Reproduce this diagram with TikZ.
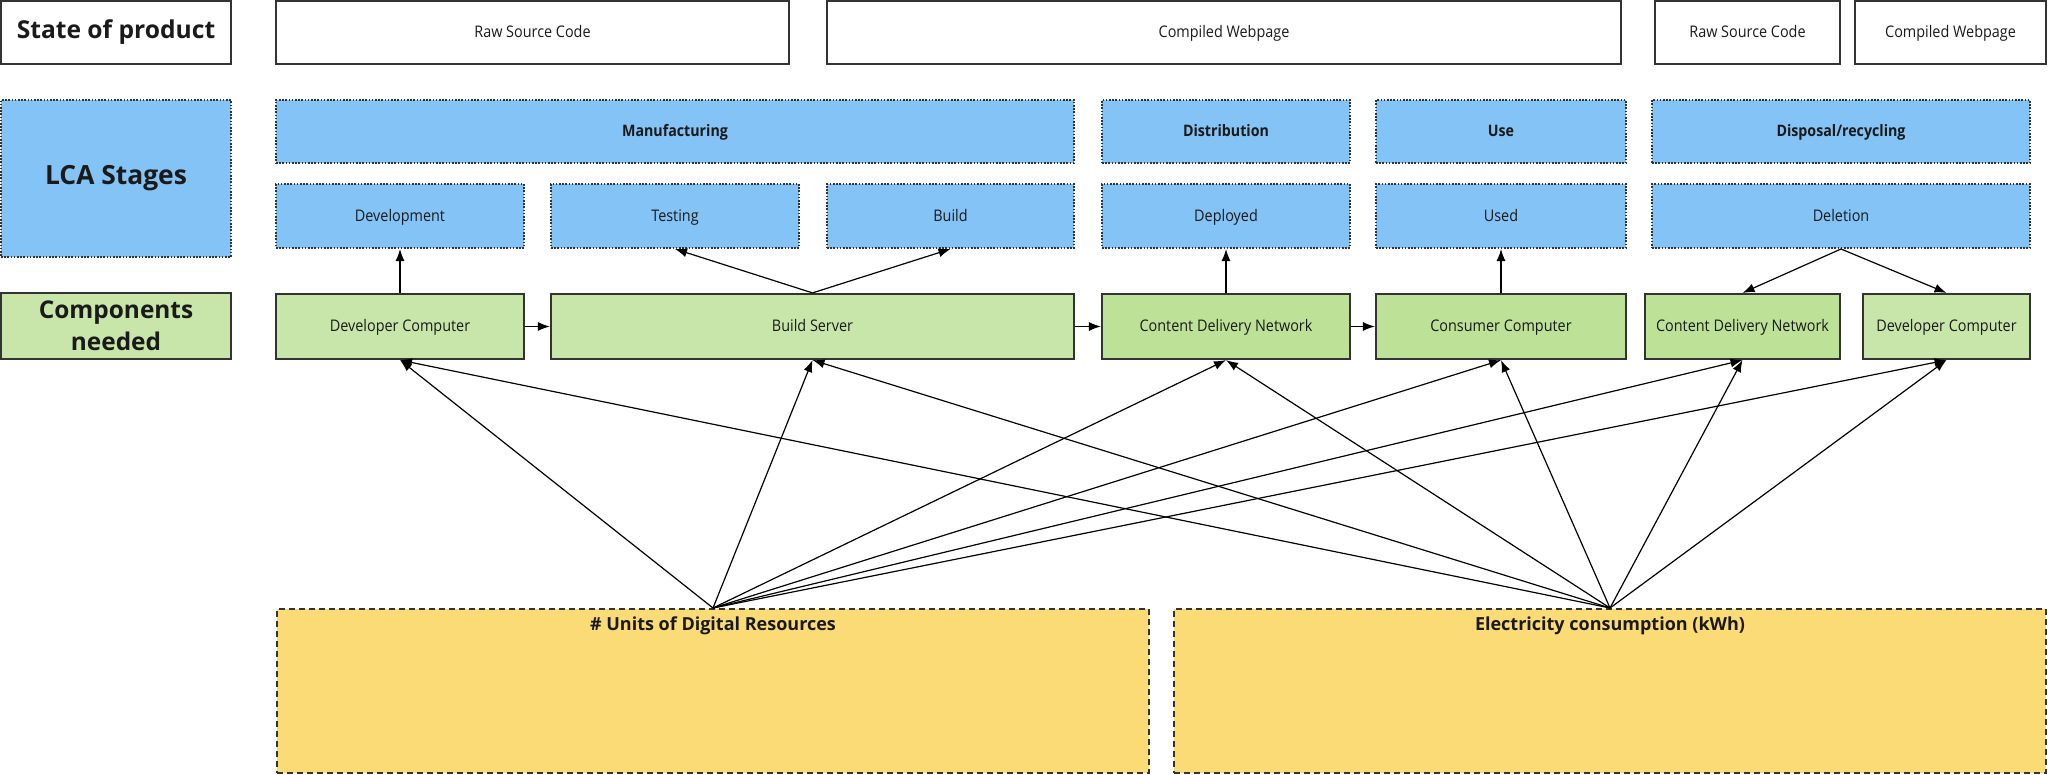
\documentclass[tikz,border=0pt]{standalone}
\usepackage{fontspec}
\setmainfont{Open Sans}
\newfontfamily\condf{Open Sans}[FakeStretch=0.9]
\usetikzlibrary{arrows.meta}
\definecolor{bordc}{HTML}{333333}
\definecolor{textc}{HTML}{1A1A1A}
\definecolor{blueF}{HTML}{83C3F6}
\definecolor{greenL}{HTML}{C8E6AA}
\definecolor{greenD}{HTML}{BDE297}
\definecolor{yellowF}{HTML}{FADB75}
% box from corner (x1,y1) to (x2,y2), in pixel units
\newcommand\pbox[7]{%
  \node[#1, minimum width={(#5-#3)*0.5pt}, minimum height={(#6-#4)*0.5pt}]
    (#2) at ({(#3+#5)/2},{(#4+#6)/2}) {#7};}
\begin{document}
\begin{tikzpicture}[x=0.5pt,y=-0.5pt,
  base/.style={draw=bordc, line width=1.1pt, inner sep=0pt, text=textc, align=center},
  txt/.style={font=\condf\fontsize{8}{10}\selectfont, text height=0.74em, text depth=0.2em},
  btxt/.style={font=\condf\bfseries\fontsize{7.9}{10}\selectfont, text height=0.74em, text depth=0.2em},
  htxt/.style={font=\bfseries\fontsize{12.3}{15.8}\selectfont},
  wbox/.style={base, fill=white},
  bbox/.style={base, fill=blueF, line width=1pt, dash pattern=on 0.8pt off 0.8pt},
  gboxl/.style={base, fill=greenL},
  gboxd/.style={base, fill=greenD},
  ybox/.style={base, fill=yellowF, line width=1pt, dash pattern=on 3pt off 2pt},
  ylab/.style={font=\bfseries\fontsize{9}{11}\selectfont, text=textc, anchor=center, yshift=-9pt},
  arr/.style={-{Latex[length=6pt,width=4.5pt]}, line width=0.6pt, draw=black}
]
\useasboundingbox (0,0) rectangle (2048,775);

% Row 1: state of product
\pbox{wbox, htxt}{state}{1}{1}{231}{64}{State of product}
\pbox{wbox, txt}{rsc1}{276}{1}{789}{64}{Raw Source Code}
\pbox{wbox, txt}{cw1}{827}{1}{1621}{64}{Compiled Webpage}
\pbox{wbox, txt}{rsc2}{1655}{1}{1840}{64}{Raw Source Code}
\pbox{wbox, txt}{cw2}{1855}{1}{2046}{64}{Compiled Webpage}

% Row 2: LCA stages
\pbox{bbox, htxt, font=\bfseries\fontsize{13.2}{15.8}\selectfont}{lca}{1}{100}{231}{257}{LCA Stages}
\pbox{bbox, btxt}{manu}{276}{100}{1074}{163}{Manufacturing}
\pbox{bbox, btxt}{dist}{1102}{100}{1350}{163}{Distribution}
\pbox{bbox, btxt}{use}{1376}{100}{1626}{163}{Use}
\pbox{bbox, btxt}{disp}{1652}{100}{2030}{163}{Disposal/recycling}

% Row 3: sub-stages
\pbox{bbox, txt}{devt}{276}{184}{524}{248}{Development}
\pbox{bbox, txt}{test}{551}{184}{799}{248}{Testing}
\pbox{bbox, txt}{build}{827}{184}{1074}{248}{Build}
\pbox{bbox, txt}{depl}{1102}{184}{1350}{248}{Deployed}
\pbox{bbox, txt}{used}{1376}{184}{1626}{248}{Used}
\pbox{bbox, txt}{del}{1652}{184}{2030}{248}{Deletion}

% Row 4: components
\pbox{gboxl, htxt, font=\bfseries\fontsize{12.2}{15.8}\selectfont}{comp}{1}{293}{231}{359}{Components\\needed}
\pbox{gboxl, txt}{dc1}{276}{294}{524}{359}{Developer Computer}
\pbox{gboxl, txt}{bs}{551}{294}{1074}{359}{Build Server}
\pbox{gboxd, txt}{cdn1}{1102}{294}{1350}{359}{Content Delivery Network}
\pbox{gboxd, txt}{cc}{1376}{294}{1626}{359}{Consumer Computer}
\pbox{gboxd, txt}{cdn2}{1645}{294}{1840}{359}{Content Delivery Network}
\pbox{gboxl, txt}{dc2}{1863}{294}{2030}{359}{Developer Computer}

% Row 5: resources
\pbox{ybox, label={[ylab]north:\# Units of Digital Resources}}{units}{277}{609}{1149}{773}{}
\pbox{ybox, label={[ylab]north:Electricity consumption (kWh)}}{elec}{1174}{609}{2046}{773}{}

% vertical arrows
\draw[arr] (dc1.north) -- (devt.south);
\draw[arr] (bs.north) -- (test.south);
\draw[arr] (bs.north) -- (build.south);
\draw[arr] (cdn1.north) -- (depl.south);
\draw[arr] (cc.north) -- (used.south);
\draw[arr] (del.south) -- (cdn2.north);
\draw[arr] (del.south) -- (dc2.north);

% horizontal arrows
\draw[arr] (dc1.east) -- (bs.west);
\draw[arr] (bs.east) -- (cdn1.west);
\draw[arr] (cdn1.east) -- (cc.west);

% resource arrows
\foreach \t in {dc1,bs,cdn1,cc,cdn2,dc2}{
  \draw[arr] (units.north) -- (\t.south);
  \draw[arr] (elec.north) -- (\t.south);
}
\end{tikzpicture}
\end{document}
